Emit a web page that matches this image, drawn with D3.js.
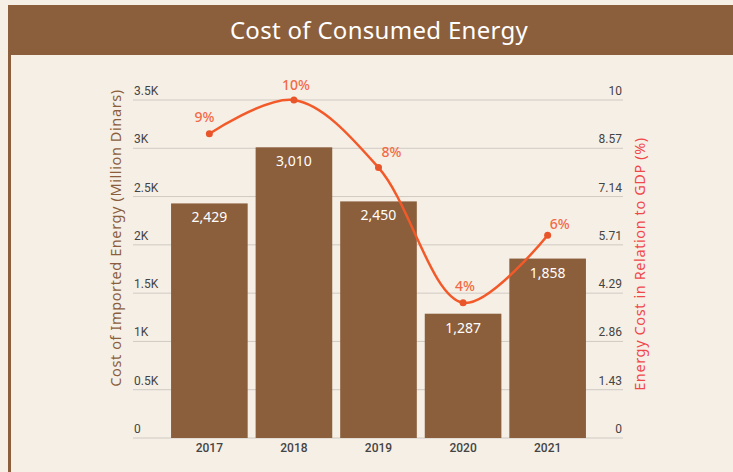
<!DOCTYPE html>
<html>
<head>
<meta charset="utf-8">
<script src="https://cdn.jsdelivr.net/npm/d3@7"></script>
<style>
  body { margin: 0; background: #f6efe6; }
  svg { display: block; }
</style>
</head>
<body>
<div id="chart"></div>
<script>
// data
var years = ["2017", "2018", "2019", "2020", "2021"];
var costs = [2429, 3010, 2450, 1287, 1858];
var gdpShare = [9, 10, 8, 4, 6];
var leftTicks = [0, 500, 1000, 1500, 2000, 2500, 3000, 3500];
var leftTickLabels = ["0", "0.5K", "1K", "1.5K", "2K", "2.5K", "3K", "3.5K"];
var rightTickLabels = ["0", "1.43", "2.86", "4.29", "5.71", "7.14", "8.57", "10"];

// nudges for the % labels so they clear the line
var pctDx = [-5, 2, 13, 2, 12];
var pctDy = [-12, -10, -11, -12, -6];

var width = 733, height = 472;
var brown = "#8b5e3c", orange = "#f25a2a";

var svg = d3.select("#chart")
  .append("svg")
    .attr("width", width)
    .attr("height", height);

svg.append("rect")
  .attr("width", width).attr("height", height)
  .attr("fill", "#f6efe6");

// title bar and left border
svg.append("rect")
  .attr("x", 8).attr("y", 5)
  .attr("width", width - 8).attr("height", 50)
  .attr("fill", brown);
svg.append("rect")
  .attr("x", 8).attr("y", 55)
  .attr("width", 3).attr("height", height - 55)
  .attr("fill", brown);
svg.append("text")
  .attr("x", 379).attr("y", 39)
  .attr("text-anchor", "middle")
  .attr("fill", "#fff")
  .style("font-family", "'Noto Sans', sans-serif")
  .style("font-size", "24px")
  .style("letter-spacing", "0.3px")
  .text("Cost of Consumed Energy");

var x = d3.scaleBand()
  .domain(years)
  .range([133, 624])
  .paddingInner(0.094)
  .paddingOuter(0.45);

var y = d3.scaleLinear().domain([0, 3500]).range([438, 100]);
var y2 = d3.scaleLinear().domain([0, 10]).range([438, 100]);

var g = svg.append("g");

// gridlines
g.selectAll("line.grid")
  .data(leftTicks)
  .enter()
  .append("line")
    .attr("x1", 133).attr("x2", 623)
    .attr("y1", function(d) { return y(d); })
    .attr("y2", function(d) { return y(d); })
    .attr("stroke", "#cfcac3")
    .attr("stroke-width", 1);

var tickFont = "Roboto, sans-serif";

g.selectAll("text.lt")
  .data(leftTicks)
  .enter()
  .append("text")
    .attr("x", 134)
    .attr("y", function(d) { return y(d) - 5; })
    .attr("fill", "#444")
    .style("font-family", tickFont)
    .style("font-size", "12px")
    .text(function(d, i) { return leftTickLabels[i]; });

g.selectAll("text.rt")
  .data(rightTickLabels)
  .enter()
  .append("text")
    .attr("x", 622)
    .attr("y", function(d, i) { return y2(i * 10 / 7) - 5; })
    .attr("text-anchor", "end")
    .attr("fill", "#444")
    .style("font-family", tickFont)
    .style("font-size", "12px")
    .text(function(d) { return d; });

// bars
g.selectAll("rect.bar")
  .data(costs)
  .enter()
  .append("rect")
    .attr("x", function(d, i) { return x(years[i]); })
    .attr("y", function(d) { return y(d); })
    .attr("width", x.bandwidth())
    .attr("height", function(d) { return 438 - y(d); })
    .attr("fill", brown);

g.selectAll("text.val")
  .data(costs)
  .enter()
  .append("text")
    .attr("x", function(d, i) { return x(years[i]) + x.bandwidth() / 2; })
    .attr("y", function(d) { return y(d) + 19; })
    .attr("text-anchor", "middle")
    .attr("fill", "#fff")
    .style("font-family", "'Noto Sans', sans-serif")
    .style("font-size", "14px")
    .text(function(d) { return d3.format(",")(d); });

// x labels
g.selectAll("text.xl")
  .data(years)
  .enter()
  .append("text")
    .attr("x", function(d) { return x(d) + x.bandwidth() / 2; })
    .attr("y", 452)
    .attr("text-anchor", "middle")
    .attr("fill", "#444")
    .style("font-family", tickFont)
    .style("font-size", "12px")
    .style("font-weight", "500")
    .text(function(d) { return d; });

// line
var line = d3.line()
  .x(function(d, i) { return x(years[i]) + x.bandwidth() / 2; })
  .y(function(d) { return y2(d); })
  .curve(d3.curveCatmullRom.alpha(0.5));

g.append("path")
  .datum(gdpShare)
  .attr("d", line)
  .attr("fill", "none")
  .attr("stroke", orange)
  .attr("stroke-width", 2.5);

g.selectAll("circle.pt")
  .data(gdpShare)
  .enter()
  .append("circle")
    .attr("cx", function(d, i) { return x(years[i]) + x.bandwidth() / 2; })
    .attr("cy", function(d) { return y2(d); })
    .attr("r", 3.5)
    .attr("fill", "#e8552a");

g.selectAll("text.pct")
  .data(gdpShare)
  .enter()
  .append("text")
    .attr("x", function(d, i) { return x(years[i]) + x.bandwidth() / 2 + pctDx[i]; })
    .attr("y", function(d, i) { return y2(d) + pctDy[i]; })
    .attr("text-anchor", "middle")
    .attr("fill", "#f26a45")
    .style("font-family", "'Noto Sans', sans-serif")
    .style("font-size", "14px")
    .style("font-weight", "500")
    .text(function(d) { return d + "%"; });

// axis titles
svg.append("text")
  .attr("transform", "translate(121,238) rotate(-90)")
  .attr("text-anchor", "middle")
  .attr("fill", brown)
  .style("font-family", "'Noto Sans', sans-serif")
  .style("font-size", "14.5px")
  .style("letter-spacing", "0.6px")
  .text("Cost of Imported Energy (Million Dinars)");

svg.append("text")
  .attr("transform", "translate(645,264) rotate(-90)")
  .attr("text-anchor", "middle")
  .attr("fill", "#f0484a")
  .style("font-family", "'Noto Sans', sans-serif")
  .style("font-size", "14.5px")
  .style("letter-spacing", "0.6px")
  .text("Energy Cost in Relation to GDP (%)");
</script>
</body>
</html>
